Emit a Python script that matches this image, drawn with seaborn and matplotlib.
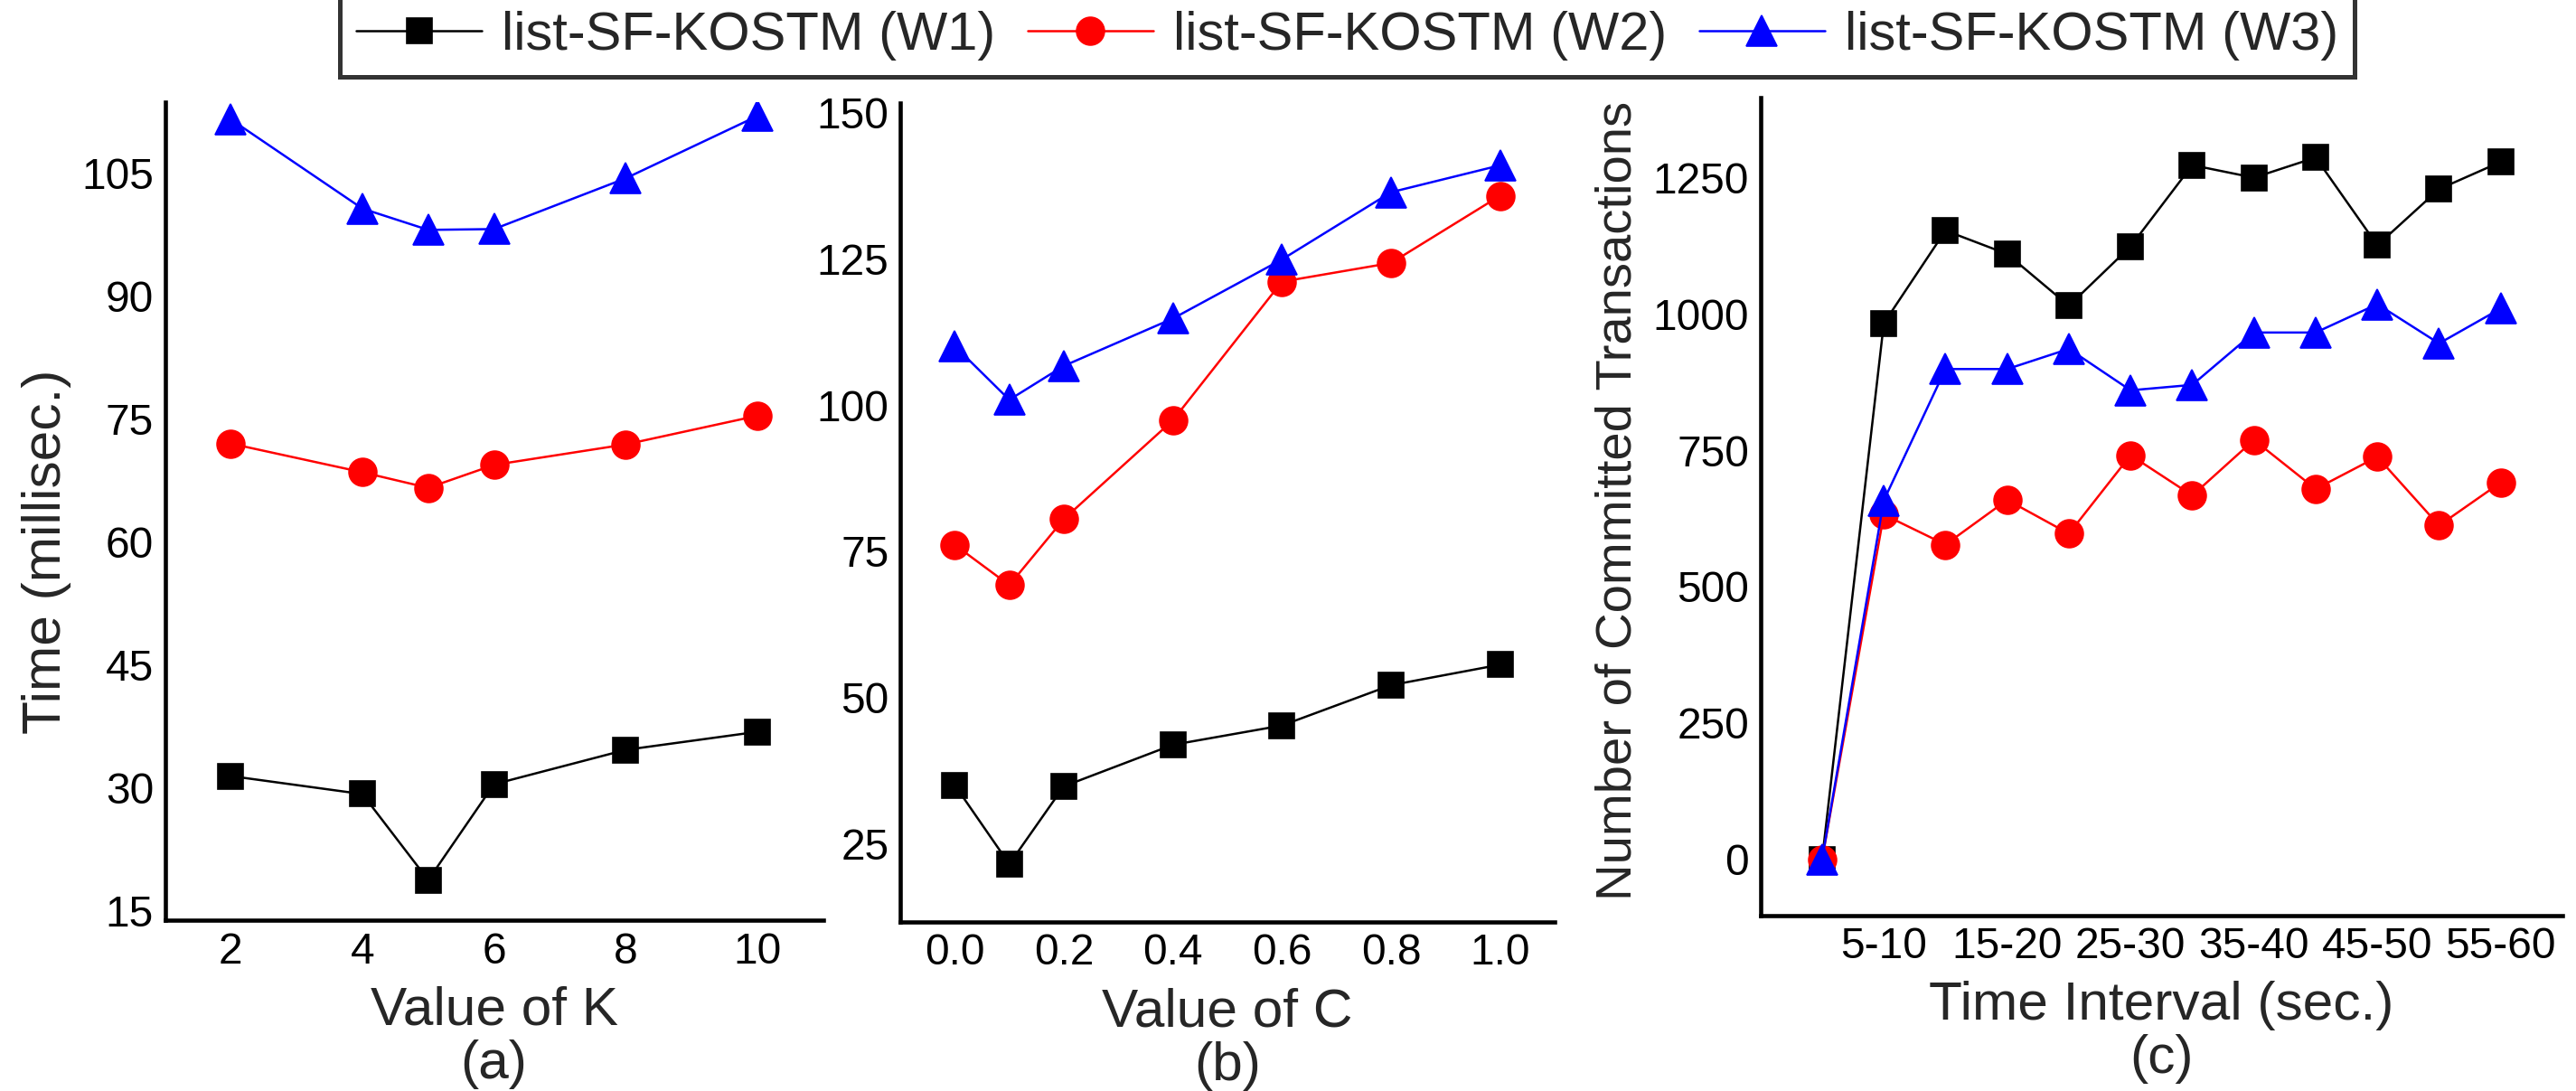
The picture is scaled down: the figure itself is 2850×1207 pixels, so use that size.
import numpy as np
import pandas as pd
import matplotlib
matplotlib.use("Agg")
import matplotlib.pyplot as plt
import seaborn as sns

# panel (a): time vs K
k_vals = [2, 4, 5, 6, 8, 10]
k_w1 = [31.4, 29.2, 18.7, 30.4, 34.6, 36.8]
k_w2 = [72.0, 68.5, 66.6, 69.4, 71.9, 75.4]
k_w3 = [111.6, 100.7, 98.1, 98.2, 104.4, 112.0]

# panel (b): time vs C
c_vals = [0.0, 0.1, 0.2, 0.4, 0.6, 0.8, 1.0]
c_w1 = [35.0, 21.5, 34.8, 41.9, 45.2, 52.1, 55.6]
c_w2 = [76.1, 69.2, 80.5, 97.4, 121.1, 124.3, 135.8]
c_w3 = [110.1, 100.9, 106.7, 114.8, 124.9, 136.4, 141.0]

# panel (c): committed transactions per time interval
t_vals = [0, 5, 10, 15, 20, 25, 30, 35, 40, 45, 50, 55]
t_w1 = [0, 983, 1153, 1110, 1015, 1124, 1273, 1250, 1287, 1126, 1229, 1279]
t_w2 = [0, 632, 577, 659, 597, 741, 667, 769, 679, 738, 612, 691]
t_w3 = [0, 658, 899, 899, 936, 860, 870, 966, 966, 1018, 946, 1010]
t_tick_pos = [5, 15, 25, 35, 45, 55]
t_tick_lab = ["5-10", "15-20", "25-30", "35-40", "45-50", "55-60"]

nomi = ["list-SF-KOSTM (W1)", "list-SF-KOSTM (W2)", "list-SF-KOSTM (W3)"]
colori = ["black", "red", "blue"]
marker = ["s", "o", "^"]
msize = [6.6, 7.4, 8.2]

sns.set_theme(style="white")
plt.rcParams["font.family"] = ["Liberation Sans", "DejaVu Sans"]

fig = plt.figure(figsize=(9.5, 1207 / 300), dpi=300)
ax1 = fig.add_axes([0.06404, 0.15658, 0.2555, 0.74979])
ax2 = fig.add_axes([0.34947, 0.15493, 0.25404, 0.75062])
ax3 = fig.add_axes([0.68340, 0.16098, 0.31133, 0.74913])


def disegna(ax, x, serie):
    for i, y in enumerate(serie):
        sns.lineplot(x=x, y=y, ax=ax, color=colori[i], marker=marker[i],
                     markersize=msize[i], markeredgecolor=colori[i],
                     markeredgewidth=0.4, linewidth=0.6, label=nomi[i],
                     legend=False, sort=False)


def stile(ax, xlab, lettera, ylab=None, ylab_x=-0.18, ylab_y=0.5, ylab_size=14.5):
    for s in ["top", "right"]:
        ax.spines[s].set_visible(False)
    for s in ["left", "bottom"]:
        ax.spines[s].set_color("black")
        ax.spines[s].set_linewidth(1.1)
    ax.tick_params(axis="both", length=0, labelsize=11.5, colors="black", pad=3)
    ax.set_xlabel("")
    ax.set_ylabel("")
    ax.text(0.5, -0.11, xlab, transform=ax.transAxes, ha="center", va="center",
            fontsize=14.5)
    ax.text(0.5, -0.176, lettera, transform=ax.transAxes, ha="center", va="center",
            fontsize=14.5)
    if ylab:
        ax.text(ylab_x, ylab_y, ylab, transform=ax.transAxes, ha="center",
                va="center", rotation=90, fontsize=ylab_size)


disegna(ax1, k_vals, [k_w1, k_w2, k_w3])
ax1.set_xlim(1, 11)
ax1.set_ylim(13.8, 113.7)
ax1.set_xticks([2, 4, 6, 8, 10])
ax1.set_yticks(np.arange(15, 106, 15))
stile(ax1, "Value of K", "(a)", "Time (millisec.)", -0.18, 0.451)

disegna(ax2, c_vals, [c_w1, c_w2, c_w3])
ax2.set_xlim(-0.1, 1.1)
ax2.set_ylim(11.6, 151.65)
ax2.set_xticks([0.0, 0.2, 0.4, 0.6, 0.8, 1.0])
ax2.set_xticklabels(["0.0", "0.2", "0.4", "0.6", "0.8", "1.0"])
ax2.set_yticks(np.arange(25, 151, 25))
stile(ax2, "Value of C", "(b)")

disegna(ax3, t_vals, [t_w1, t_w2, t_w3])
ax3.set_xlim(-5, 60)
ax3.set_ylim(-103, 1396)
ax3.set_xticks(t_tick_pos)
ax3.set_xticklabels(t_tick_lab)
ax3.set_yticks(np.arange(0, 1251, 250))
stile(ax3, "Time Interval (sec.)", "(c)", "Number of Committed Transactions",
      -0.1777, 0.507, 13.5)

handles, labels = ax1.get_legend_handles_labels()
leg = fig.legend(handles, labels, loc="center", bbox_to_anchor=(0.523, 0.967),
                 ncol=3, fontsize=14.3, frameon=True, fancybox=False,
                 handlelength=2.33, handletextpad=0.37, columnspacing=0.6,
                 borderpad=0.3, borderaxespad=0)
leg.get_frame().set_edgecolor("black")
leg.get_frame().set_linewidth(1.2)

fig.savefig("out.png", dpi=300)
